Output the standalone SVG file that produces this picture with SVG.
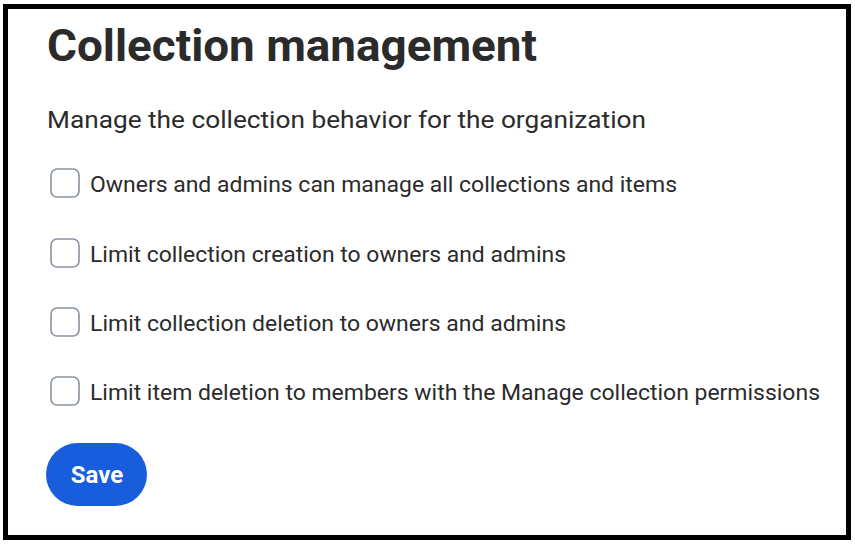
<svg xmlns="http://www.w3.org/2000/svg" width="855" height="544" viewBox="0 0 855 544">
<style>
.t{font-family:Roboto,"Liberation Sans",sans-serif;fill:#2b2b2b}
.lb{font-size:22.5px}
.cb{fill:#fff;stroke:#89929f;stroke-width:1.6}
</style>
<rect x="0" y="0" width="855" height="544" fill="#fff"/>
<rect x="5.5" y="6.5" width="843" height="531" fill="#fff" stroke="#000" stroke-width="5"/>
<text class="t" x="47" y="61" font-size="44" font-weight="bold" textLength="490" lengthAdjust="spacingAndGlyphs">Collection management</text>
<text class="t" x="47" y="128" font-size="24" textLength="599" lengthAdjust="spacingAndGlyphs">Manage the collection behavior for the organization</text>
<g id="opt1"><rect class="cb" x="51" y="169" width="28" height="28" rx="6"/><text class="t lb" x="90" y="192" textLength="587" lengthAdjust="spacingAndGlyphs">Owners and admins can manage all collections and items</text></g>
<g id="opt2"><rect class="cb" x="51" y="239" width="28" height="28" rx="6"/><text class="t lb" x="90" y="262" textLength="476" lengthAdjust="spacingAndGlyphs">Limit collection creation to owners and admins</text></g>
<g id="opt3"><rect class="cb" x="51" y="308" width="28" height="28" rx="6"/><text class="t lb" x="90" y="331" textLength="476" lengthAdjust="spacingAndGlyphs">Limit collection deletion to owners and admins</text></g>
<g id="opt4"><rect class="cb" x="51" y="377" width="28" height="28" rx="6"/><text class="t lb" x="90" y="400" textLength="730" lengthAdjust="spacingAndGlyphs">Limit item deletion to members with the Manage collection permissions</text></g>
<g id="save"><rect x="46" y="443" width="101" height="63" rx="31.5" fill="#175ddc"/><text x="97" y="483" text-anchor="middle" font-family="Roboto,'Liberation Sans',sans-serif" font-size="24" font-weight="bold" fill="#fff">Save</text></g>
</svg>
